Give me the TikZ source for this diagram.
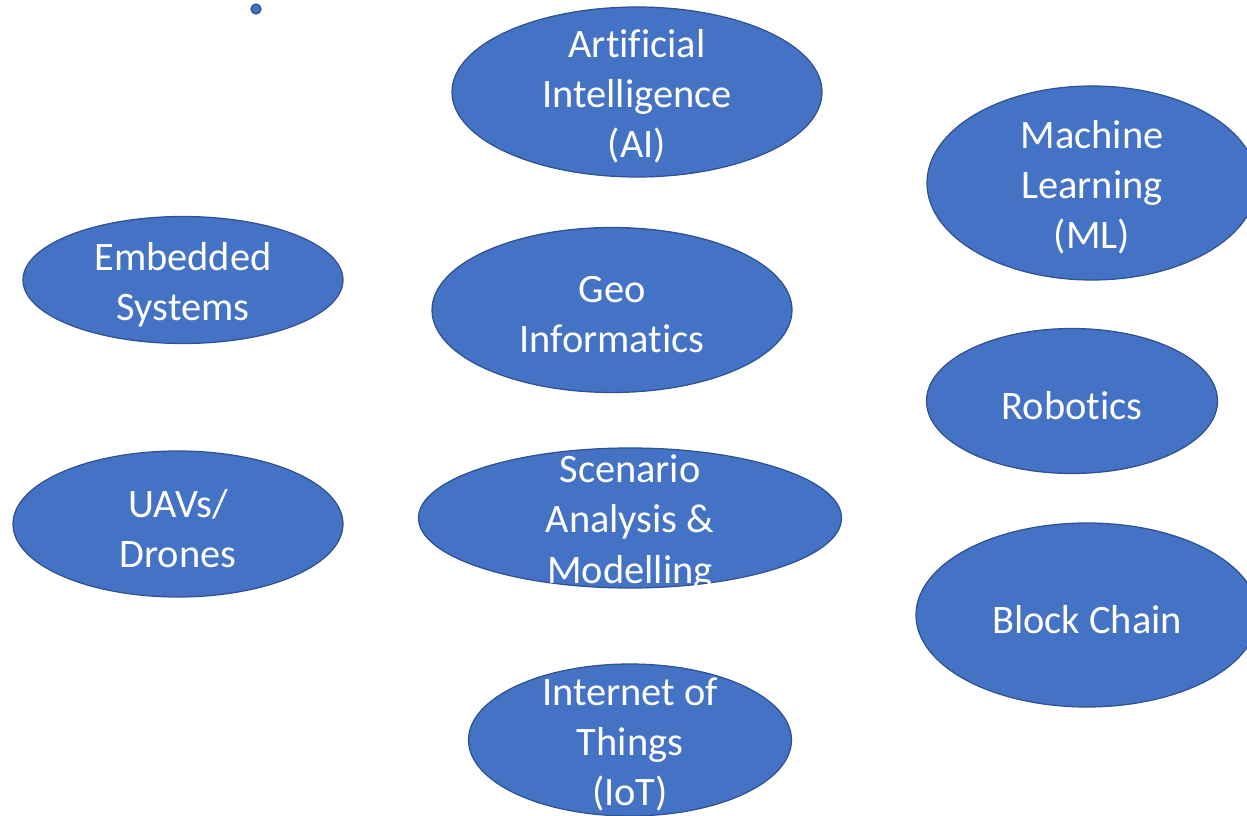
\documentclass[tikz,border=0pt]{standalone}
\usepackage{fontspec}
\setmainfont{Carlito}[Ligatures={NoCommon}]
\usepackage{xcolor}
\usepackage{tikz}
\usetikzlibrary{shapes,positioning}
\definecolor{blobfill}{HTML}{4472C4}
\definecolor{blobedge}{HTML}{2F528F}

\begin{document}
\begin{tikzpicture}[
    blob/.style={ellipse, draw=blobedge, fill=blobfill, line width=0.7pt, inner sep=0pt},
    txt/.style={text=white, align=center, yshift=-0.09cm, font=\fontsize{23}{28.5}\selectfont}
]
    \useasboundingbox (0,0) rectangle (24.94,-16.32);
    \clip (0,0) rectangle (24.94,-16.32);

    % stray point at the top
    \node[circle, draw=blobedge, fill=blobfill, line width=0.7pt, minimum size=0.2cm, inner sep=0pt] (dot) at (5.12,-0.18) {};

    % middle column
    \node[blob, minimum width=7.40cm, minimum height=3.40cm] (ai) at (12.74,-1.84) {};
    \node[txt] at (ai) {Artificial\\Intelligence\\(AI)};
    \node[blob, minimum width=7.20cm, minimum height=3.30cm] (geo) at (12.24,-6.20) {};
    \node[txt] at (geo) {Geo\\Informatics};
    \node[blob, minimum width=8.46cm, minimum height=2.80cm] (scen) at (12.60,-10.36) {};
    \node[txt] at (scen) {Scenario\\Analysis \&\\Modelling};
    \node[blob, minimum width=6.46cm, minimum height=3.04cm] (iot) at (12.60,-14.80) {};
    \node[txt] at (iot) {Internet of\\Things\\(IoT)};

    % left column
    \node[blob, minimum width=6.40cm, minimum height=2.54cm] (embed) at (3.66,-5.60) {};
    \node[txt] at (embed) {Embedded\\Systems};
    \node[blob, minimum width=6.60cm, minimum height=2.92cm] (uav) at (3.56,-10.48) {};
    \node[txt] at (uav) {UAVs/\\Drones};

    % right column
    \node[blob, minimum width=6.60cm, minimum height=3.88cm] (ml) at (21.84,-3.66) {};
    \node[txt] at (ml) {Machine\\Learning\\(ML)};
    \node[blob, minimum width=5.82cm, minimum height=2.90cm] (robo) at (21.44,-8.02) {};
    \node[txt] at (robo) {Robotics};
    \node[blob, minimum width=6.84cm, minimum height=3.68cm] (chain) at (21.74,-12.30) {};
    \node[txt] at (chain) {Block Chain};
\end{tikzpicture}
\end{document}
